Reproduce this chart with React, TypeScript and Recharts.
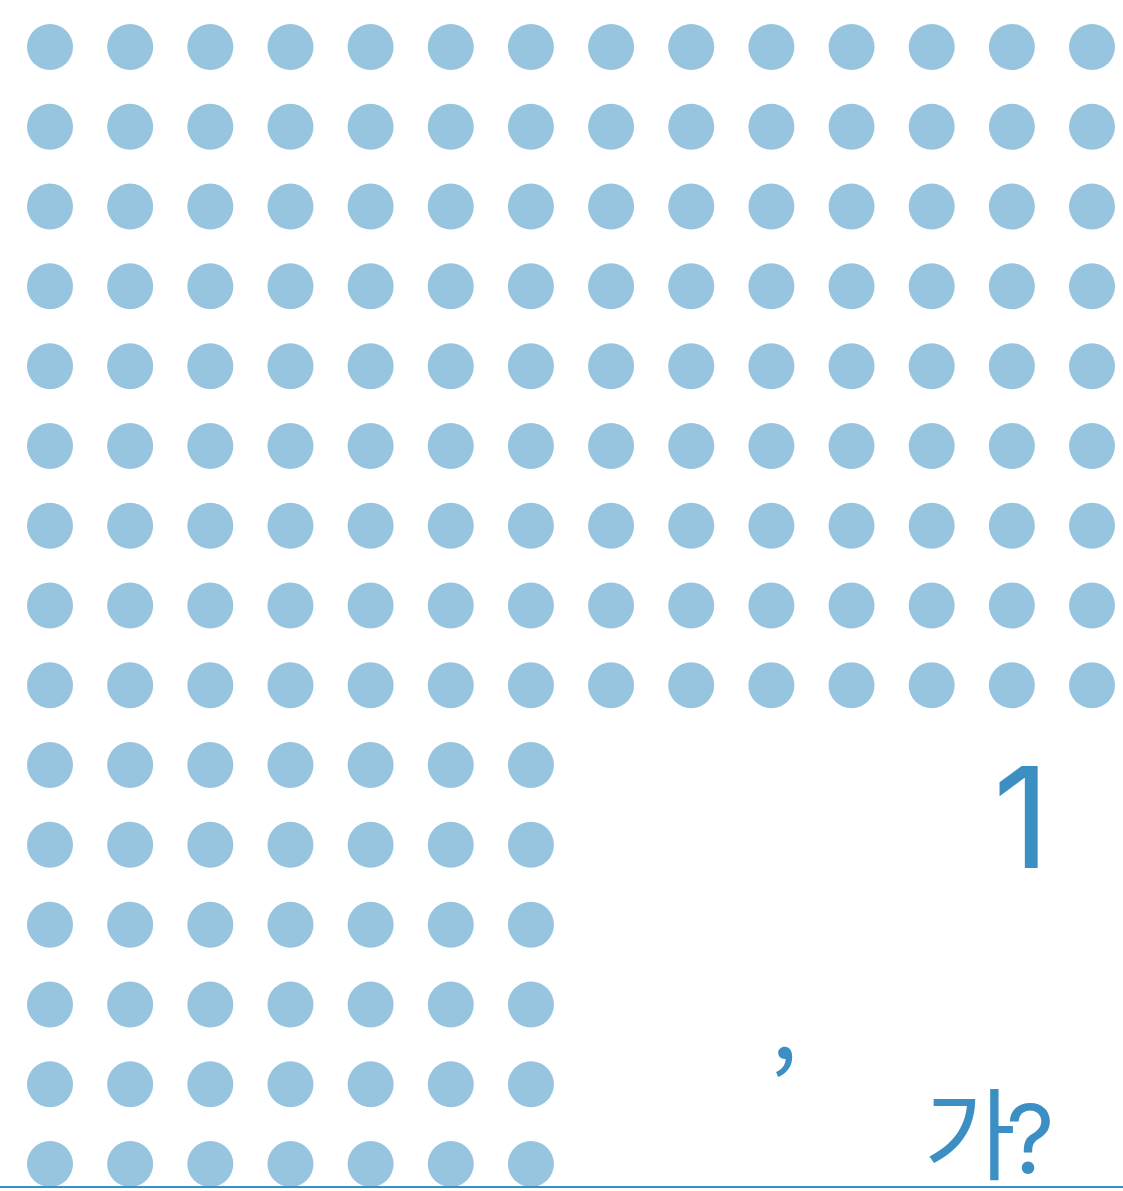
import { ScatterChart, Scatter, XAxis, YAxis } from 'recharts'

// dots per row, top to bottom (pictogram grid)
const rowCounts = [14, 14, 14, 14, 14, 14, 14, 14, 14, 7, 7, 7, 7, 7, 7]
const columns = 14
const headline = '1'
const commaText = ','
const question = ['가', '?']

const DOT_COLOR = '#97c4de'
const TEXT_COLOR = '#3c8fc3'
const FONT = "Inter, 'Noto Sans', sans-serif"
const KR_FONT = "'Noto Sans CJK KR', sans-serif"

const points = rowCounts.flatMap((count, row) =>
  Array.from({ length: count }, (_, col) => ({ col, row }))
)

const Dot = (props: any) => {
  const { cx, cy } = props
  return <circle cx={cx} cy={cy} r={23} fill={DOT_COLOR} />
}

export default function App() {
  return (
    <div style={{ position: 'absolute', top: 0, left: 0, width: 1123, height: 1191, background: '#fff', overflow: 'hidden' }}>
      <ScatterChart width={1123} height={1191} margin={{ top: 47, right: 31, bottom: 27, left: 50 }}>
        <XAxis type="number" dataKey="col" domain={[0, columns - 1]} hide />
        <YAxis type="number" dataKey="row" domain={[0, rowCounts.length - 1]} reversed hide />
        <Scatter data={points} shape={<Dot />} isAnimationActive={false} />
      </ScatterChart>
      <svg width={1123} height={1191} style={{ position: 'absolute', top: 0, left: 0 }}>
        <text x={993} y={868} style={{ fontFamily: FONT, fontSize: 140 }} fill={TEXT_COLOR}>
          {headline}
        </text>
        <text x={771} y={1059} style={{ fontFamily: KR_FONT, fontSize: 96 }} fill={TEXT_COLOR}>
          {commaText}
        </text>
        <text x={924} y={1172} style={{ fontFamily: KR_FONT, fontSize: 100 }} fill={TEXT_COLOR}>
          {question[0]}
        </text>
        <text x={1006} y={1173} style={{ fontFamily: FONT, fontSize: 95 }} fill={TEXT_COLOR}>
          {question[1]}
        </text>
        <line x1={0} x2={1123} y1={1187} y2={1187} stroke={TEXT_COLOR} strokeWidth={2} />
      </svg>
    </div>
  )
}
